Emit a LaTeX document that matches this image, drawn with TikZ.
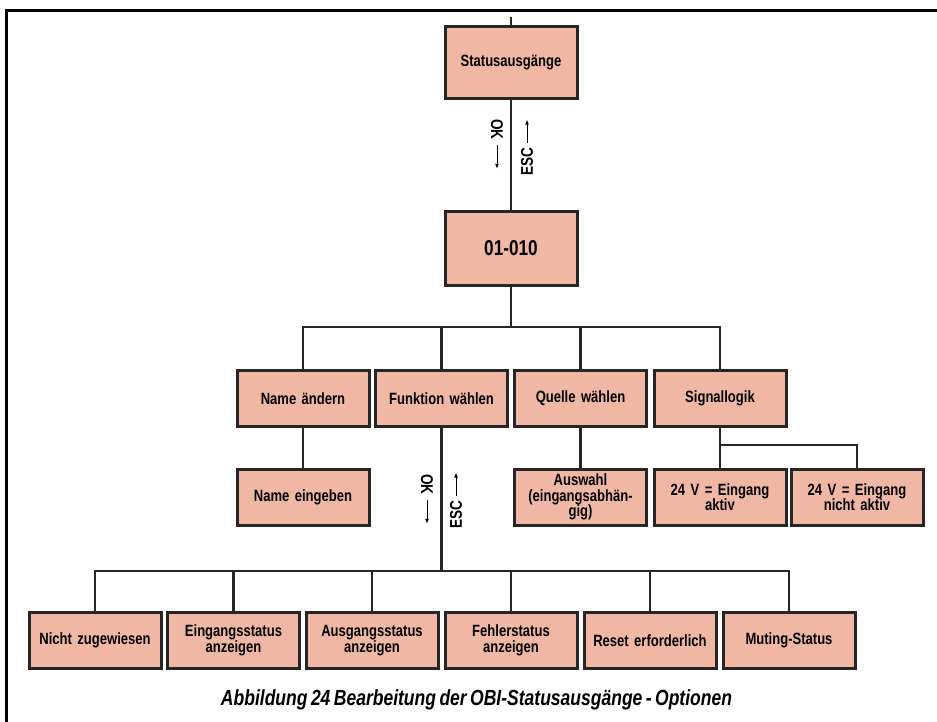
\documentclass[tikz,border=0pt]{standalone}
\usepackage{fontspec}
\setmainfont{Liberation Sans}[FakeStretch=0.8, WordSpace=0.7]
\usetikzlibrary{arrows.meta}

\definecolor{boxfill}{HTML}{F0B8A4}
\definecolor{boxline}{HTML}{262626}

\tikzset{
  box/.style={draw=boxline, fill=boxfill, line width=3pt,
    minimum width=132pt, minimum height=56pt, inner sep=1pt,
    align=center, text width=128pt,
    font=\bfseries\fontsize{16.3}{15.5}\selectfont},
  conn/.style={draw=boxline, line width=2.8pt},
  lbl/.style={inner sep=0pt, font=\bfseries\fontsize{17}{17}\selectfont},
  tip/.style={line width=0.9pt, -{Latex[length=5pt,width=4pt]}},
  frame/.style={line width=3pt, line cap=rect}
}

\begin{document}
\begin{tikzpicture}[x=1pt, y=-1pt]
  \useasboundingbox (0,0) rectangle (937,722);

  % outer frame (top and left edges)
  \draw[frame] (6,722) -- (6,10.5) -- (937,10.5);

  % main chain
  \node[box, minimum height=72pt] (stat) at (511,63) {Statusausgänge};
  \node[box, minimum height=73pt, font=\bfseries\fontsize{21.5}{21}\selectfont] (code) at (511,248.5) {01-010};

  % first level
  \node[box] (name)  at (303,398.5)   {Name ändern};
  \node[box] (func)  at (441.5,398.5) {Funktion wählen};
  \node[box] (src)   at (580.5,398.5) {Quelle wählen};
  \node[box] (logic) at (720,398.5)   {Signallogik};

  % second level
  \node[box] (namein) at (303,497)   {Name eingeben};
  \node[box] (sel)    at (580.5,497) {Auswahl\\(eingangsabhän-\\gig)};
  \node[box] (act)    at (720,497)   {24 V = Eingang\\aktiv};
  \node[box] (nact)   at (857,497)   {24 V = Eingang\\nicht aktiv};

  % functions
  \node[box] (f1) at (95,640.5)    {Nicht zugewiesen};
  \node[box] (f2) at (233.5,640.5) {Eingangsstatus\\anzeigen};
  \node[box] (f3) at (372,640.5)   {Ausgangsstatus\\anzeigen};
  \node[box] (f4) at (511,640.5)   {Fehlerstatus\\anzeigen};
  \node[box] (f5) at (650,640.5)   {Reset erforderlich};
  \node[box] (f6) at (789,640.5)   {Muting-Status};

  % connectors
  \coordinate (in) at (511,17);
  \coordinate (b1) at (511,327);
  \coordinate (b2) at (720,445);
  \coordinate (b3) at (441.5,571);

  \draw[conn] (in) -- (stat.north);
  \draw[conn] (stat.south) -- (code.north);
  \draw[conn] (code.south) -- (b1);
  \draw[conn] (name.north) |- (logic.north |- b1) -- (logic.north);
  \draw[conn] (func.north) -- (func.north |- b1);
  \draw[conn] (src.north) -- (src.north |- b1);

  \draw[conn] (name.south) -- (namein.north);
  \draw[conn] (src.south) -- (sel.north);
  \draw[conn] (logic.south) -- (b2) -| (nact.north);
  \draw[conn] (act.north) -- (act.north |- b2);

  \draw[conn] (func.south) -- (b3);
  \draw[conn] (f1.north) |- (f6.north |- b3) -- (f6.north);
  \foreach \n in {f2,f3,f4,f5}
    \draw[conn] (\n.north) -- (\n.north |- b3);

  % navigation labels
  \node[lbl, rotate=-90, anchor=west] (ok1) at (497,119) {OK};
  \draw[tip] ([yshift=-5pt]ok1.east) -- ++(0,24);
  \node[lbl, rotate=90, anchor=west] (esc1) at (527,176) {ESC};
  \draw[tip] ([yshift=5pt]esc1.east) -- ++(0,-23);

  \node[lbl, rotate=-90, anchor=west] (ok2) at (427,474) {OK};
  \draw[tip] ([yshift=-5pt]ok2.east) -- ++(0,24);
  \node[lbl, rotate=90, anchor=west] (esc2) at (456,529) {ESC};
  \draw[tip] ([yshift=5pt]esc2.east) -- ++(0,-23);

  % caption
  \node[anchor=base, inner sep=0pt, font=\bfseries\itshape\fontsize{21.9}{22}\selectfont] (cap) at (476.5,705)
    {Abbildung 24 Bearbeitung der OBI-Statusausgänge - Optionen};
\end{tikzpicture}
\end{document}
